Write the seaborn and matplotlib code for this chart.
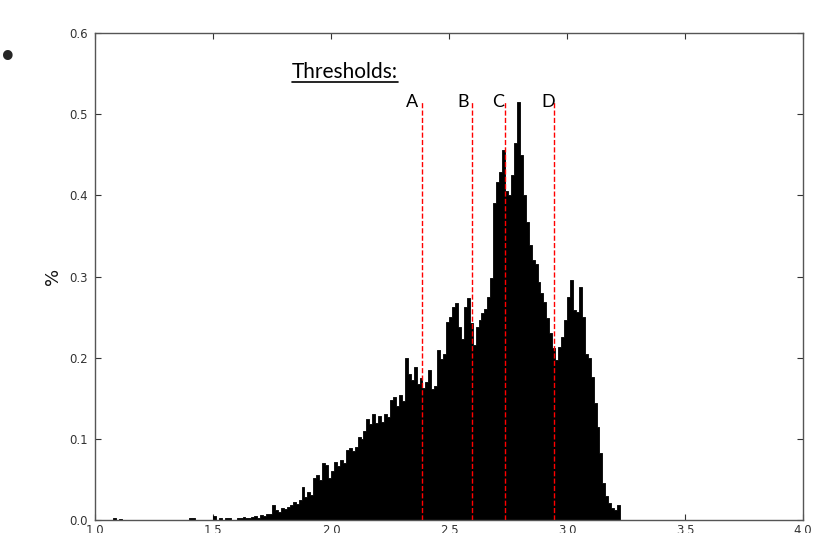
import numpy as np
import pandas as pd
import matplotlib
matplotlib.use("Agg")
import matplotlib.pyplot as plt
import seaborn as sns

# histogram heights (%), bins of 0.0125 starting at 1.6
bin_width = 0.0125
bin_start = 1.6
heights = [
    0.003, 0.002, 0.004, 0.003, 0.002, 0.004, 0.005, 0.003, 0.006, 0.005,
    0.008, 0.007, 0.018, 0.012, 0.010, 0.015, 0.014, 0.016, 0.018, 0.022,
    0.020, 0.025, 0.041, 0.028, 0.035, 0.031, 0.052, 0.056, 0.049, 0.070,
    0.068, 0.052, 0.060, 0.071, 0.066, 0.074, 0.070, 0.086, 0.089, 0.085,
    0.090, 0.102, 0.100, 0.110, 0.124, 0.118, 0.130, 0.120, 0.128, 0.121,
    0.131, 0.127, 0.148, 0.152, 0.140, 0.154, 0.146, 0.200, 0.180, 0.172,
    0.188, 0.168, 0.175, 0.163, 0.170, 0.185, 0.162, 0.165, 0.210, 0.198,
    0.205, 0.244, 0.250, 0.262, 0.267, 0.238, 0.223, 0.262, 0.273, 0.243,
    0.216, 0.238, 0.246, 0.255, 0.260, 0.275, 0.298, 0.390, 0.416, 0.429,
    0.456, 0.405, 0.400, 0.425, 0.464, 0.515, 0.450, 0.400, 0.367, 0.339,
    0.320, 0.315, 0.293, 0.280, 0.268, 0.249, 0.230, 0.212, 0.197, 0.213,
    0.225, 0.246, 0.275, 0.296, 0.259, 0.256, 0.287, 0.250, 0.205, 0.200,
    0.176, 0.144, 0.115, 0.083, 0.046, 0.030, 0.021, 0.015, 0.012, 0.018,
]
# a few sparse low-value bins on the far left
tail_x = [1.08, 1.105, 1.40, 1.415, 1.50, 1.525, 1.55, 1.575]
tail_h = [0.002, 0.001, 0.002, 0.002, 0.005, 0.002, 0.003, 0.002]

thresholds = [2.386, 2.597, 2.737, 2.945]
threshold_names = ["A", "B", "C", "D"]
label_x = [2.343, 2.559, 2.708, 2.919]

centers = bin_start + bin_width * (np.arange(len(heights)) + 0.5)
df = pd.DataFrame({
    "x": np.concatenate([tail_x, centers]),
    "w": np.concatenate([tail_h, heights]),
})

sns.set_style("ticks")
plt.rcParams["font.family"] = ["DejaVu Sans"]
plt.rcParams["xtick.direction"] = "in"
plt.rcParams["ytick.direction"] = "in"

fig = plt.figure(figsize=(8.16, 5.33), dpi=100)
ax = fig.add_axes([95 / 816, 13 / 533, 708 / 816, 487 / 533])

bin_end = bin_start + bin_width * len(heights)
sns.histplot(data=df, x="x", weights="w", binwidth=bin_width,
             binrange=(1.0, bin_end), element="step", fill=True,
             color="black", alpha=1, linewidth=0.6, edgecolor="black", ax=ax)

ax.vlines(thresholds, 0, 0.515, colors="red", linestyles="--", linewidth=1.0)
for name, lx in zip(threshold_names, label_x):
    ax.text(lx, 0.509, name, ha="center", va="baseline", fontsize=13,
            family="Lato", color="black")

t = ax.text(1.835, 0.5445, "Thresholds:", ha="left", va="baseline",
            fontsize=15, family="Lato", color="black")

ax.set_xlim(1.0, 4.0)
ax.set_ylim(0, 0.6)
ax.set_xticks(np.arange(1.0, 4.01, 0.5))
ax.set_yticks(np.arange(0, 0.61, 0.1))
ax.tick_params(top=True, right=True, labelsize=8.5, colors="#333333",
               length=4, width=0.8, pad=5)
ax.tick_params(axis="x", pad=3)
for s in ax.spines.values():
    s.set_color("#555555")
    s.set_linewidth(1.0)

ax.set_xlabel("")
ax.set_ylabel("%", fontsize=13, color="#111111")
ax.yaxis.set_label_coords(-0.047, 0.5)

# underline the "Thresholds:" heading
fig.canvas.draw()
bb = t.get_window_extent(renderer=fig.canvas.get_renderer())
inv = ax.transData.inverted()
(x0, _), (x1, _) = inv.transform([(bb.x0, 0), (bb.x1, 0)])
ax.plot([x0, x1], [0.5396, 0.5396], color="black", linewidth=1.2, clip_on=False)

fig.text(8 / 816, 1 - 58 / 533, "\u2022", fontsize=24, ha="center", va="center")

fig.savefig("out.png", dpi=100)
